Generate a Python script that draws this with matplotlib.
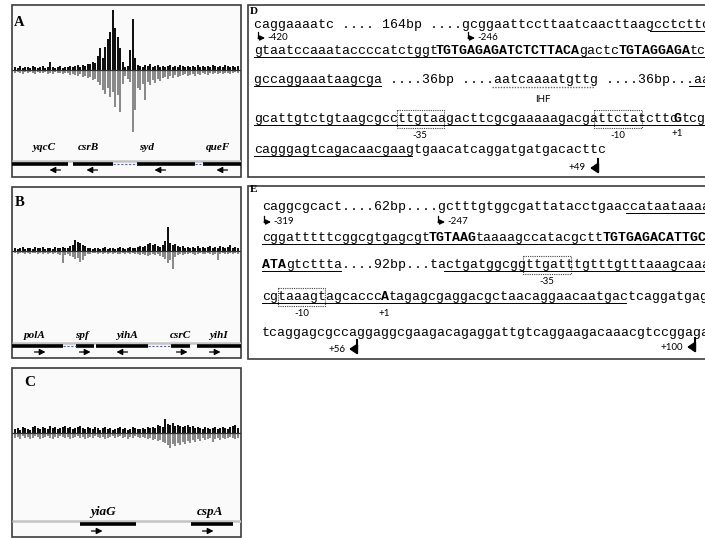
import matplotlib
matplotlib.use('Agg')
import matplotlib.pyplot as plt
from matplotlib.patches import Rectangle
import numpy as np
from itertools import groupby

W, H = 705, 538

# ---------------- coverage data (bins along each region) ----------------
a_fwd = [3,2,4,2,3,3,2,4,3,2,3,4,2,3,
         8,
         3,2,3,4,2,3,3,4,3,
         4,5,3,5,4,6,
         6,8,7,14,
         22,12,23,31,38,60,42,33,22,8,3,4,20,51,12,5,
         4,3,5,4,6,3,4,5,3,4, 3,4,5,3,4,3,5,4,3,4,
         3,4,3,5,3,4,3,4,3,5, 4,3,4,3,5,4,3,4,3,4]
a_rev = [3,2,3,4,2,3,2,3,4,2,3,3,2,4,
         3,4,2,3,3,4,3,3,5,4,
         5,6,4,7,6,8,
         7,10,9,12,
         15,20,24,18,27,22,37,25,42,14,6,9,12,62,40,18,20,14,30,12,15,10,13,9,11,8,
         7,9,6,8,5,7,6,5,4,6, 5,4,6,4,5,3,4,5,3,4,
         3,4,3,4,3,3,4,3,2,3]
b_fwd = [3,2,3,4,2,3,3,2,4,3,3,4,2,3,3,2,4,3,3,
         4,3,3,5,6,11,9,8,6,5,3,
         3,2,3,3,2,3,4,2,3,3,2,3,4,3,2,3,4,3,3,4,5,
         4,5,7,8,6,7,5,4,6,10,24,8,6,7,5,
         4,5,3,4,3,4,3,5,3,4,3,4,5,3,4,3,5,4,3,4,6,3,4,3]
b_rev = [2,3,2,2,3,2,3,2,2,3,2,3,2,3,2,3,2,3,4,
         12,4,3,5,6,8,7,11,9,5,3,
         3,2,2,3,2,3,2,3,2,3,2,3,3,2,3,2,3,2,3,3,4,
         3,4,5,4,3,4,3,5,6,8,12,9,18,6,4,
         3,4,3,3,2,3,4,3,2,3,3,2,3,4,3,9,3,2,3,3,2,3,2,3]
c_fwd = [4,5,3,6,5,4,3,6,7,5, 4,6,5,4,7,5,6,4,5,6,
         7,5,6,4,5,6,7,5,4,6, 5,4,6,5,3,5,6,4,5,3,
         4,5,6,4,5,3,4,6,5,4,
         4,5,4,6,5,
         6,5,8,7,6,
         14,
         9,8,10,7,8,
         7,6,7,8,6,7,5,
         6,5,4,6,5,4,5,6,4,5,6,5,4,6,7,8,5]
c_rev = [5,4,6,3,5,4,6,5,3,4, 6,5,4,3,5,6,4,5,3,4,
         5,4,6,5,4,3,5,4,6,5, 4,5,3,4,5,4,6,5,4,3,
         5,4,3,5,4,6,4,5,3,4,
         5,4,5,6,5,7,6,8,7,9,
         10,12,15,11,13,10,12,9,11,8,10,7,9,
         6,8,5,7,6,5,9,6,5,7,5,6,5,4,5,6,5]

# ---------------- gene annotations (bin units) ----------------
a_genes = ["yqcC", "csrB", "syd", "queF"]
a_gstart = [-0.8, 23.6, 49.2, 75.6]
a_gend = [21.6, 39.6, 72.4, 90.8]
a_strand = [-1, -1, -1, -1]
a_inter = [(39.6, 49.2), (72.4, 75.6)]
a_lab = [12.0, 29.6, 53.2, 81.6]
a_arr = [16.4, 31.2, 58.4, 83.2]

b_genes = ["polA", "spf", "yihA", "csrC", "yihI"]
b_gstart = [-0.8, 24.8, 32.8, 62.8, 73.2]
b_gend = [19.6, 32.0, 53.6, 70.4, 90.8]
b_strand = [1, 1, -1, 1, 1]
b_inter = [(19.6, 24.8), (53.6, 62.8)]
b_lab = [8.4, 27.2, 45.2, 66.4, 81.6]
b_arr = [10.4, 28.4, 43.2, 67.2, 80.4]

c_genes = ["yiaG", "cspA"]
c_gstart = [26.4, 70.8]
c_gend = [48.8, 87.6]
c_strand = [1, 1]
c_inter = []
c_lab = [35.6, 78.4]
c_arr = [33.2, 77.6]

# ---------------- sequences ----------------
d_rows = [
    "caggaaaatc .... 164bp ....gcggaattccttaatcaacttaagcctcttc",
    "gtaatccaaataccccatctggtTGTGAGAGATCTCTTACAgactcTGTAGGAGAtc",
    "gccaggaaataagcga ....36bp ....aatcaaaatgttg ....36bp...aa",
    "gcattgtctgtaagcgccttgtaagacttcgcgaaaaagacgattctatcttcGtcg",
    "cagggagtcagacaacgaagtgaacatcaggatgatgacacttc",
]
d_under = [[(50, 57)], [(0, 57)], [(0, 16), (55, 57)], [(0, 57)], [(0, 20)]]
d_dotted = [[], [], [(30, 43)], [], []]
d_boxes = [[], [], [], [(18, 24, "-35"), (43, 49, "-10")], []]

e_rows = [
    "caggcgcact....62bp....gctttgtggcgattatacctgaaccataataaaagc",
    "cggatttttcggcgtgagcgtTGTAAGtaaaagccatacgcttTGTGAGACATTGCCC",
    "ATAgtcttta....92bp...tactgatggcggttgatttgtttgtttaaagcaaagc",
    "cgtaaagtagcacccAtagagcgaggacgctaacaggaacaatgactcaggatgaggc",
    "tcaggagcgccaggaggcgaagacagaggattgtcaggaagacaaacgtccggagac",
]
e_under = [[(46, 58)], [(0, 58)], [(0, 10), (23, 58)], [(0, 46)], []]
e_dotted = [[], [], [], [], []]
e_boxes = [[], [], [(33, 39, "-35")], [(2, 8, "-10")], []]

# ---------------- figure ----------------
fig = plt.figure(figsize=(W/100, H/100), dpi=100)
fig.patch.set_facecolor('white')
bg = fig.add_axes([0, 0, 1, 1])
bg.set_xlim(0, W); bg.set_ylim(H, 0); bg.axis('off')

FRAME = '#3c3c3c'
for (x0, y0, x1, y1, fc) in [(12, 5, 241, 177, '#fafafa'), (12, 187, 241, 358, '#fafafa'),
                             (12, 368, 241, 537, '#fafafa'),
                             (248, 5, 720, 177, 'white'), (248, 186, 720, 359, 'white')]:
    bg.add_patch(Rectangle((x0, y0), x1-x0, y1-y0, facecolor=fc, edgecolor=FRAME, lw=1.2, zorder=0))

serif = 'Liberation Serif'
for lab, x, y, s in [("A", 19, 22, 10.5), ("B", 20, 202, 10.5), ("C", 30, 382, 11)]:
    bg.text(x, y, lab, family=serif, weight='bold', size=s, ha='center', va='center')
bg.text(250, 11, "D", family=serif, weight='bold', size=8, ha='left', va='center')
bg.text(250, 190, "E", family=serif, weight='bold', size=8, ha='left', va='center')


def px_axes(x0, y0, x1, y1):
    a = fig.add_axes([x0/W, 1-y1/H, (x1-x0)/W, (y1-y0)/H])
    a.patch.set_alpha(0)
    a.axis('off')
    return a


def coverage(fwd, rev, top, base, bottom):
    a = px_axes(12, top, 241, bottom)
    a.set_xlim(-0.8, 90.8)
    a.set_ylim(-(bottom-base), base-top)
    xf = np.arange(len(fwd)) + 0.5
    xr = np.arange(len(rev)) + 0.5
    a.bar(xr, -np.array(rev), width=0.9, color='#8a8a8a', linewidth=0)
    a.bar(xf, np.array(fwd), width=0.9, color='#111111', linewidth=0)
    a.axhline(0, color='#333333', lw=0.9)


def genes(names, gs, ge, strand, inter, lab, arr, top, bottom, y_gray, y_bar, y_lab, y_arr, fs):
    a = px_axes(12, top, 241, bottom)
    a.set_xlim(-0.8, 90.8)
    a.set_ylim(bottom, top)
    a.hlines(y_gray, -0.8, 90.8, color='#c4c4c4', lw=1.8)
    a.hlines([y_bar]*len(gs), gs, ge, color='black', lw=2.6)
    for s, e in inter:
        a.hlines(y_bar, s, e, color='#4a5fd0', lw=0.8, linestyles=(0, (2, 1.5)))
    for n, x in zip(names, lab):
        a.text(x, y_lab, n, family=serif, style='italic', weight='bold', size=fs,
               ha='center', va='center')
    for x, s in zip(arr, strand):
        a.annotate('', xy=(x + 2.2*s, y_arr), xytext=(x - 2.2*s, y_arr),
                   arrowprops=dict(arrowstyle='-|>,head_length=0.35,head_width=0.18',
                                   lw=0.9, color='black', shrinkA=0, shrinkB=0))


coverage(a_fwd, a_rev, 8, 70, 140)
genes(a_genes, a_gstart, a_gend, a_strand, a_inter, a_lab, a_arr, 140, 176, 161, 164, 147, 170, 8)
coverage(b_fwd, b_rev, 189, 251, 300)
genes(b_genes, b_gstart, b_gend, b_strand, b_inter, b_lab, b_arr, 300, 357, 343, 346, 335, 352, 8)
coverage(c_fwd, c_rev, 370, 433, 495)
genes(c_genes, c_gstart, c_gend, c_strand, c_inter, c_lab, c_arr, 495, 536, 521, 524, 512, 531, 9.5)

# ---------------- sequence panels ----------------
FS = 9.5
CW = FS * 100 / 72 * 0.6001
MONO = 'Liberation Mono'
SMALL = dict(family='Lato', size=7)


def draw_row(x0, yb, s, under, dotted, boxes):
    i = 0
    for upper, grp in groupby(s, key=lambda c: c.isupper()):
        run = ''.join(grp)
        bg.text(x0 + i*CW, yb, run, family=MONO, size=FS,
                weight='bold' if upper else 'normal',
                ha='left', va='baseline', color='black')
        i += len(run)
    for s0, s1 in under:
        bg.plot([x0 + s0*CW, x0 + s1*CW], [yb + 2.5, yb + 2.5], color='black', lw=0.7)
    for s0, s1 in dotted:
        bg.plot([x0 + s0*CW, x0 + s1*CW], [yb + 3.5, yb + 3.5], color='#666666', lw=1.0,
                ls=(0, (1, 1)))
    for s0, s1, lab in boxes:
        bg.add_patch(Rectangle((x0 + s0*CW, yb - 12), (s1 - s0)*CW, 18, fill=False,
                               edgecolor='#444444', lw=0.8, ls=(0, (1, 1))))
        bg.text(x0 + (s0 + s1)/2*CW, yb + 14, lab, ha='center', va='center', **SMALL)


def bent_right(x, y, label):
    bg.plot([x, x], [y - 6, y], color='black', lw=0.9)
    bg.annotate('', xy=(x + 7, y), xytext=(x, y),
                arrowprops=dict(arrowstyle='-|>,head_length=0.3,head_width=0.15', lw=0.9,
                                color='black', shrinkA=0, shrinkB=0))
    bg.text(x + 9, y, label, ha='left', va='center', **SMALL)


def bent_left(x, y, label):
    bg.plot([x, x], [y - 9, y], color='black', lw=1.5)
    bg.annotate('', xy=(x - 8, y), xytext=(x, y),
                arrowprops=dict(arrowstyle='-|>,head_length=0.45,head_width=0.3', lw=1.5,
                                color='black', shrinkA=0, shrinkB=0))
    bg.text(x - 12, y, label, ha='right', va='center', **SMALL)


D_X0 = 254
d_base = [28, 54, 83, 122, 153]
for s, yb, u, dt, bx in zip(d_rows, d_base, d_under, d_dotted, d_boxes):
    draw_row(D_X0, yb, s, u, dt, bx)
bent_right(258, 38, "-420")
bent_right(468, 38, "-246")
bg.text(D_X0 + 36.5*CW, 100, "IHF", ha='center', va='center', **SMALL)
bg.text(D_X0 + 53.5*CW, 134, "+1", ha='center', va='center', **SMALL)
bent_left(598, 168, "+49")

E_X0 = 262
e_base = [210, 241, 268, 300, 336]
for s, yb, u, dt, bx in zip(e_rows, e_base, e_under, e_dotted, e_boxes):
    draw_row(E_X0, yb, s, u, dt, bx)
bent_right(264, 222, "-319")
bent_right(438, 222, "-247")
bg.text(E_X0 + 15.5*CW, 313, "+1", ha='center', va='center', **SMALL)
bent_left(357, 349, "+56")
bent_left(695, 347, "+100")

fig.savefig('out.png', dpi=100, facecolor='white')
